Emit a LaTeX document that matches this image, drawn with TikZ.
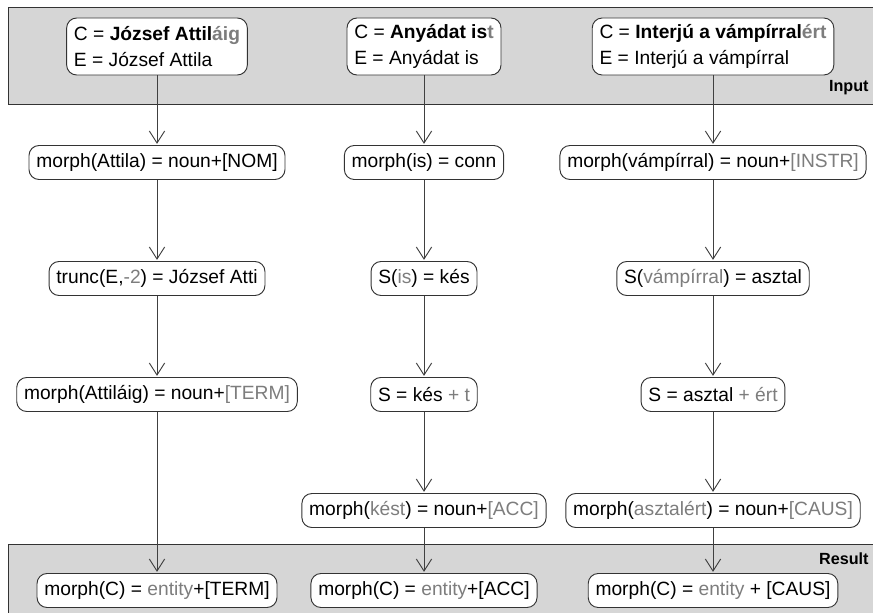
\documentclass[tikz,border=0pt]{standalone}
\usepackage{fontspec}
\setmainfont{Liberation Sans}
\usepackage{tikz}
\usetikzlibrary{arrows.meta}

\definecolor{bandgray}{RGB}{214,214,214}
\definecolor{txtgray}{RGB}{125,125,125}
\newcommand{\greytxt}[1]{\textcolor{txtgray}{#1}}

\begin{document}
\begin{tikzpicture}[->,>={Straight Barb[length=0.36cm,width=0.46cm]},shorten >=1pt,
        node distance=3.48cm,font=\fontsize{16.4}{22}\selectfont,
        cell/.style={draw=black!80,line width=0.8pt,rounded corners=0.3cm,fill=white,
          inner xsep=0.22cm,minimum height=1.02cm},
        band/.style={draw=black!80,line width=0.8pt,fill=bandgray},
        tag/.style={anchor=east,inner sep=1pt,font=\fontsize{13.8}{16}\selectfont\bfseries}]

  \useasboundingbox (0,0) rectangle (26.19,-18.36);
  \path[band,-] (0.24,-0.21) rectangle (26.6,-3.12);
  \path[band,-] (0.24,-16.32) rectangle (26.6,-18.8);
  \node[tag] (input) at (26.1,-2.64) {Input};
  \node[tag] (result) at (26.1,-16.77) {Result};

  \node[cell,align=left,minimum height=1.71cm] (a1) at (4.71,-1.395)
       {C = \textbf{József Attil\greytxt{áig}}\\E = József Attila};
  \node[cell] (a2) [below of=a1] {morph(Attila) = noun+[NOM]};
  \node[cell] (a3) [below of=a2] {trunc(E,\greytxt{-2}) = József Atti};
  \node[cell] (a4) [below of=a3] {morph(Attiláig) = noun+\greytxt{[TERM]}};
  \node[cell] (a6) [below of=a4, node distance=5.88cm] {morph(C) = \greytxt{entity}+[TERM]};

  \node[cell,align=left,minimum height=1.71cm] (b1) at (12.72,-1.395)
       {C = \textbf{Anyádat is\greytxt{t}}\\E = Anyádat is};
  \node[cell] (b2) [below of=b1] {morph(is) = conn};
  \node[cell] (b3) [below of=b2] {S(\greytxt{is}) = kés};
  \node[cell] (b4) [below of=b3] {S = kés \greytxt{+ t}};
  \node[cell] (b5) [below of=b4] {morph(\greytxt{kést}) = noun+\greytxt{[ACC]}};
  \node[cell] (b6) [below of=b5, node distance=2.4cm] {morph(C) = \greytxt{entity}+[ACC]};

  \node[cell,align=left,minimum height=1.71cm] (c1) at (21.39,-1.395)
       {C = \textbf{Interjú a vámpírral\greytxt{ért}}\\E = Interjú a vámpírral};
  \node[cell] (c2) [below of=c1] {morph(vámpírral) = noun+\greytxt{[INSTR]}};
  \node[cell] (c3) [below of=c2] {S(\greytxt{vámpírral}) = asztal};
  \node[cell] (c4) [below of=c3] {S = asztal \greytxt{+ ért}};
  \node[cell] (c5) [below of=c4] {morph(\greytxt{asztalért}) = noun+\greytxt{[CAUS]}};
  \node[cell] (c6) [below of=c5, node distance=2.4cm] {morph(C) = \greytxt{entity} + [CAUS]};

  \path[draw=black!75,line width=0.8pt]
        (a1) edge (a2)
        (a2) edge (a3)
        (a3) edge (a4)
        (a4) edge (a6)
        (b1) edge (b2)
        (b2) edge (b3)
        (b3) edge (b4)
        (b4) edge (b5)
        (b5) edge (b6)
        (c1) edge (c2)
        (c2) edge (c3)
        (c3) edge (c4)
        (c4) edge (c5)
        (c5) edge (c6);

\end{tikzpicture}
\end{document}
